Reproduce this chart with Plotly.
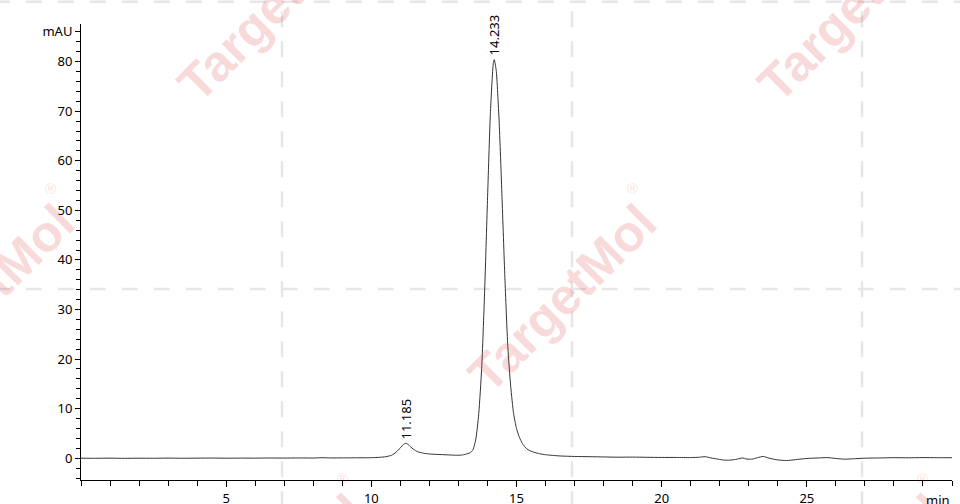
import plotly.graph_objects as go

# retention time (min) and absorbance (mAU)
time_min = [0.0, 0.5, 1.0, 1.5, 2.0, 2.5, 3.0, 3.5, 4.0, 4.5, 5.0, 5.5, 6.0, 6.5, 7.0, 7.5,
            8.0, 8.3, 8.6, 9.0, 9.5, 10.0, 10.3, 10.5, 10.7, 10.85, 11.0, 11.1, 11.185, 11.25,
            11.35, 11.45, 11.6, 11.8, 12.0, 12.3, 12.6, 12.9, 13.1, 13.25, 13.4, 13.5, 13.6,
            13.7, 13.8, 13.9, 14.0, 14.1, 14.2, 14.233, 14.3, 14.4, 14.5, 14.6, 14.7, 14.8,
            14.9, 15.0, 15.1, 15.2, 15.3, 15.4, 15.6, 15.8, 16.0, 16.5, 17.0, 17.5, 18.0,
            18.5, 19.0, 19.5, 20.0, 20.5, 21.0, 21.3, 21.5, 21.7, 21.9, 22.1, 22.3, 22.5,
            22.7, 22.8, 22.9, 23.1, 23.3, 23.5, 23.7, 24.0, 24.3, 24.6, 25.0, 25.4, 25.7,
            26.0, 26.3, 26.6, 27.0, 27.5, 28.0, 28.5, 29.0, 29.5, 30.0]
signal_mau = [0.0, -0.02, 0.01, -0.03, 0.0, -0.02, 0.02, -0.01, 0.01, 0.03, 0.0, 0.02, 0.01,
              0.04, 0.02, 0.05, 0.03, 0.1, 0.05, 0.06, 0.08, 0.1, 0.18, 0.3, 0.6, 1.2, 2.1,
              2.75, 3.0, 2.85, 2.3, 1.8, 1.3, 1.0, 0.85, 0.75, 0.68, 0.6, 0.62, 0.8, 1.1, 1.7,
              3.9, 9.0, 18.1, 33.2, 52.0, 69.5, 79.6, 80.4, 78.3, 68.2, 52.8, 36.4, 22.6,
              14.5, 9.0, 6.0, 4.2, 3.0, 2.2, 1.7, 1.2, 0.9, 0.7, 0.45, 0.35, 0.3, 0.25, 0.2,
              0.22, 0.18, 0.15, 0.15, 0.12, 0.2, 0.3, 0.05, -0.15, -0.35, -0.4, -0.3, -0.05,
              0.05, -0.15, -0.2, 0.1, 0.35, 0.0, -0.35, -0.47, -0.3, -0.05, 0.05, 0.12,
              -0.05, -0.2, -0.12, 0.0, 0.05, 0.1, 0.08, 0.12, 0.1, 0.1]

peak_times = [11.185, 14.233]
peak_heights = [3.0, 80.4]
peak_labels = ["11.185", "14.233"]

y_tickvals = [0, 10, 20, 30, 40, 50, 60, 70, 80, 86]
y_ticktext = ["0", "10", "20", "30", "40", "50", "60", "70", "80", "mAU"]
x_tickvals = [5, 10, 15, 20, 25]
x_ticktext = ["5", "10", "15", "20", "25"]

fig = go.Figure()
fig.add_trace(go.Scatter(
    x=time_min, y=signal_mau, mode='lines',
    line=dict(color='#333333', width=1, shape='spline', smoothing=0.6),
    hoverinfo='x+y', showlegend=False
))

# peak retention time labels
for t, h, lab in zip(peak_times, peak_heights, peak_labels):
    fig.add_annotation(x=t, y=h, text=lab, textangle=-90, showarrow=False,
                       xanchor='center', yanchor='bottom', yshift=2,
                       font=dict(family='Noto Sans', size=13, color='black'))

# watermark grid (dashed grey lines, paper coords)
dash_col = '#e6e6e6'
for px in [0.2308, 0.5637, 0.8967]:
    fig.add_shape(type='line', xref='paper', yref='paper', x0=px, x1=px, y0=-0.06, y1=1.06,
                  line=dict(color=dash_col, width=2.5, dash='16px,14px'), layer='below')
for py in [0.4189, 1.049]:
    fig.add_shape(type='line', xref='paper', yref='paper', x0=-0.1, x1=1.02, y0=py, y1=py,
                  line=dict(color=dash_col, width=2.5, dash='16px,16px'), layer='below')

# watermark text
wm_col = 'rgba(220,70,70,0.2)'
wm_centers = [(562, 298), (-20, 298), (272, 8), (852, 8), (272, 588), (852, 588)]
for cx, cy in wm_centers:
    fig.add_annotation(xref='paper', yref='paper', x=(cx - 81) / 871, y=(480 - cy) / 456,
                       text='<b>TargetMol</b>', textangle=-45, showarrow=False,
                       xanchor='center', yanchor='middle',
                       font=dict(family='Liberation Sans', size=51, color=wm_col))
    fig.add_annotation(xref='paper', yref='paper', x=(cx + 70 - 81) / 871, y=(480 - cy + 110) / 456,
                       text='®', showarrow=False, xanchor='center', yanchor='middle',
                       font=dict(family='Liberation Sans', size=15, color=wm_col))

fig.add_annotation(xref='paper', yref='paper', x=1.0, y=-0.02, text='min', showarrow=False,
                   xanchor='right', yanchor='top',
                   font=dict(family='Noto Sans', size=13, color='black'))

fig.update_xaxes(range=[0, 30], tickvals=x_tickvals, ticktext=x_ticktext, automargin=False,
                 showgrid=False, zeroline=False, showline=True, linecolor='black', linewidth=1,
                 ticks='outside', ticklen=6, tickcolor='black',
                 minor=dict(dtick=1, tick0=0, ticks='outside', ticklen=5, tickcolor='black', showgrid=False),
                 tickfont=dict(family='Noto Sans', size=13, color='black'))
fig.update_yaxes(range=[-4.4, 87.6], tickvals=y_tickvals, ticktext=y_ticktext, automargin=False,
                 showgrid=False, zeroline=False, showline=True, linecolor='black', linewidth=1,
                 ticks='outside', ticklen=5, tickcolor='black',
                 minor=dict(dtick=2, tick0=0, ticks='outside', ticklen=4, tickcolor='black', showgrid=False),
                 tickfont=dict(family='Noto Sans', size=13, color='black'))

fig.update_layout(width=960, height=504, margin=dict(l=81, r=8, t=24, b=24),
                  paper_bgcolor='white', plot_bgcolor='white', showlegend=False)

fig.write_html("out.html", config={'displayModeBar': False},
               post_script="document.body.style.margin='0';")
